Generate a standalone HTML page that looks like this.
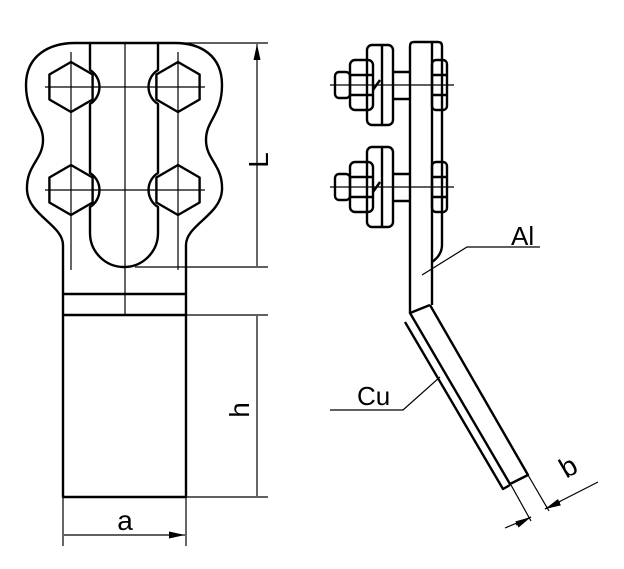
<!DOCTYPE html>
<html><head><style>body{margin:0;background:#fff}svg{display:block}</style></head><body>
<svg width="624" height="569" viewBox="0 0 624 569" xmlns="http://www.w3.org/2000/svg" font-family="Liberation Sans, sans-serif">
<defs><marker id="ar" viewBox="0 0 10 10" refX="10" refY="5" markerWidth="16" markerHeight="7" markerUnits="userSpaceOnUse" orient="auto-start-reverse" preserveAspectRatio="none"><path d="M0,0L10,5L0,10z" fill="#000"/></marker></defs>
<g fill="none" stroke="#000" stroke-width="2.4" stroke-linejoin="round">
<path d="M63,497 L63,245 C63,225 28,215 27,190 C26,165 43,160 43,140 C43,120 26,115 26,85 C26,55 50,43 75,43 L175,43 C200,43 222,55 222,85 C222,115 206,120 206,140 C206,160 223,165 222,190 C221,215 186,225 186,245 L186,497 Z"/>
<path d="M90,43 L90,70 A20,20 0 0 1 90,104 L90,173 A20,20 0 0 1 90,207 L90,233 A34,34 0 0 0 158,233 L158,207 A20,20 0 0 1 158,173 L158,104 A20,20 0 0 1 158,70 L158,43"/>
<path d="M63,294 H186 M63,315 H186"/>
<path d="M71,62 L92.6,74.5 L92.6,99.5 L71,112 L49.4,99.5 L49.4,74.5Z M178,62 L199.6,74.5 L199.6,99.5 L178,112 L156.4,99.5 L156.4,74.5Z M71,165 L92.6,177.5 L92.6,202.5 L71,215 L49.4,202.5 L49.4,177.5Z M178,165 L199.6,177.5 L199.6,202.5 L178,215 L156.4,202.5 L156.4,177.5Z"/>
</g>
<g stroke="#000" stroke-width="1.2" fill="none">
<path d="M125,43 V315 M71,52 V270 M178,52 V270 M45,87 H205 M45,190 H205"/>
<path d="M150,43 H268 M135,267 H268 M186,315 H268 M186,497 H268 M63,497 V546 M186,497 V546"/>
<path d="M257,44 V266 M257,316 V496 M64,535 H185" marker-start="url(#ar)" marker-end="url(#ar)"/>
</g>
<text x="0" y="0" font-size="28" transform="translate(268,160) rotate(-90)" text-anchor="middle">L</text>
<text x="0" y="0" font-size="28" transform="translate(249,410) rotate(-90)" text-anchor="middle">h</text>
<text x="125" y="530" font-size="28" text-anchor="middle">a</text>
<g fill="none" stroke="#000" stroke-width="2.4" stroke-linejoin="round">
<path d="M410,313 L410,46 Q410,42 414,42 L438,42 Q442,42 442,46 L442,245 Q442,255 432,262"/>
<path d="M432,42 V305"/>
<path d="M430,305 L528,475 L510,484 L410,313 L430,305"/>
<path d="M405,322 L503,489 L510,485"/>
<g id="bolt">
<rect x="367" y="45" width="26" height="80" rx="5"/>
<path d="M382,45 V125"/>
<rect x="350" y="60" width="23" height="50" rx="5"/>
<path d="M350,75 H373 M350,95 H373"/>
<rect x="335" y="72" width="15" height="26" rx="4"/>
<path d="M393,72 H410 M393,99 H410"/>
<rect x="432" y="60" width="15" height="50" rx="4"/>
<path d="M432,75 H447 M432,95 H447"/>
<path d="M373,90 L380,80"/>
</g>
<use href="#bolt" transform="translate(0,102)"/>
</g>
<g stroke="#000" stroke-width="1.2" fill="none">
<path d="M330,85 H454 M330,187 H454"/>
<path d="M540,247 H467 L422,275"/>
<path d="M330,410 H403 L440,377"/>
<path d="M511,485 L531,521 M528,475 L549,511"/>
<path d="M505,528 L531,517 M598,482 L545,509"/>
<path d="M516,525 L531,517" marker-end="url(#ar)"/>
<path d="M560,502 L545,509" marker-end="url(#ar)"/>
</g>
<text x="511" y="245" font-size="26">Al</text>
<text x="357" y="405" font-size="26">Cu</text>
<text x="0" y="0" font-size="28" transform="translate(573,475) rotate(-30)" text-anchor="middle">b</text>
</svg>
</body></html>
